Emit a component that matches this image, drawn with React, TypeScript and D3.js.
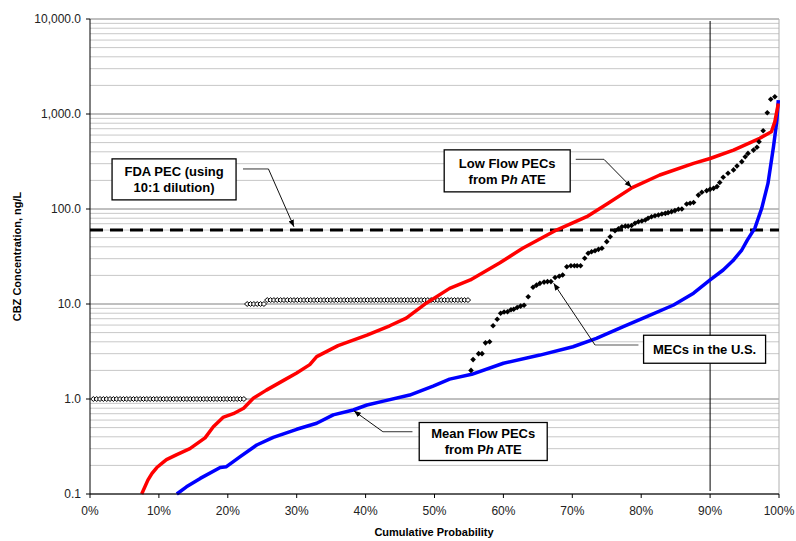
import React from 'react';
import * as d3 from 'd3';

// axis ticks
const probTicks = [0, 10, 20, 30, 40, 50, 60, 70, 80, 90, 100];
const concTicks = [0.1, 1, 10, 100, 1000, 10000];
const concTickLabels = ['0.1', '1.0', '10.0', '100.0', '1,000.0', '10,000.0'];

const fdaPec = 60; // ng/L, 10:1 dilution
const refProb = 90;

// Low Flow PECs from PhATE [cumulative %, ng/L]
const lowFlow: [number, number][] = [
  [7.5, 0.1], [8.4, 0.14], [9.0, 0.165], [9.7, 0.19], [10.6, 0.215], [11.1, 0.23],
  [12.6, 0.26], [14.5, 0.3], [16.7, 0.39], [17.9, 0.51], [19.3, 0.64], [20.8, 0.7],
  [22.3, 0.8], [23.7, 1.02], [25.6, 1.24], [28.1, 1.57], [30.0, 1.88], [31.9, 2.3],
  [32.9, 2.79], [36.0, 3.65], [40.2, 4.7], [43.5, 5.9], [45.9, 7.1], [48.8, 10.2],
  [52.2, 14.6], [55.2, 17.9], [59.5, 27.2], [62.8, 38.6], [67.7, 60], [72.1, 83],
  [75.2, 115], [78.7, 168], [82.7, 228], [87.6, 302], [90.0, 340], [93.4, 417],
  [97.2, 555], [98.9, 651], [99.4, 830], [99.9, 1290],
];

// Mean Flow PECs from PhATE
const meanFlow: [number, number][] = [
  [12.6, 0.1], [14.0, 0.119], [16.0, 0.146], [18.9, 0.19], [19.8, 0.194], [21.8, 0.247],
  [24.2, 0.328], [26.6, 0.395], [30.0, 0.48], [32.9, 0.555], [35.3, 0.68], [38.2, 0.766],
  [40.2, 0.865], [42.6, 0.95], [46.4, 1.1], [49.8, 1.37], [52.2, 1.62], [55.4, 1.82],
  [60.0, 2.38], [65.3, 2.9], [70.1, 3.55], [73.5, 4.35], [77.4, 5.77], [80.8, 7.35],
  [84.7, 9.76], [87.6, 13], [90.0, 17.9], [91.9, 22.8], [93.3, 28.5], [94.6, 37],
  [95.4, 47], [96.5, 63], [97.5, 102], [98.4, 186], [99.2, 453], [99.7, 865], [99.9, 1400],
];

// MECs in the U.S. - detections
const mecDetects: [number, number][] = [
  [55.3, 2.0], [55.6, 2.6], [56.4, 3.0], [56.9, 3.0], [57.4, 3.9], [58.0, 4.0],
  [58.5, 5.9], [59.1, 6.9], [59.6, 8.0], [60.1, 8.25], [60.6, 8.3], [61.1, 8.7],
  [61.5, 8.8], [62.0, 9.2], [62.5, 9.5], [63.0, 9.7], [63.6, 11.9], [64.3, 15.0],
  [64.8, 15.8], [65.3, 16.5], [65.9, 17.0], [66.4, 17.2], [66.9, 17.2], [67.5, 19.0],
  [68.1, 19.6], [68.6, 20.2], [69.2, 24.7], [69.8, 25.3], [70.3, 25.3], [70.7, 25.3],
  [71.2, 25.3], [71.8, 30.3], [72.3, 34.2], [72.8, 35.5], [73.3, 36.4], [73.8, 37.6],
  [74.3, 38.6], [75.0, 45.3], [75.5, 51], [76.2, 59], [76.7, 62], [77.2, 65],
  [77.7, 66], [78.1, 66], [78.6, 67], [79.1, 70.7], [79.6, 73.5], [80.1, 74.7],
  [80.6, 76.6], [81.0, 80], [81.5, 83], [82.0, 85], [82.5, 86.5], [83.0, 88.6],
  [83.5, 90], [83.9, 91.5], [84.4, 93.8], [84.9, 96.2], [85.4, 99.5], [85.9, 100],
  [86.6, 113], [87.1, 115], [87.6, 117], [88.3, 140], [88.8, 150], [89.5, 156],
  [90.0, 161], [90.5, 165], [91.0, 172], [91.4, 190], [91.9, 216], [92.6, 238],
  [93.4, 258], [93.9, 284], [94.6, 315], [95.1, 355], [95.5, 385], [96.3, 417],
  [96.8, 447], [97.1, 510], [97.7, 667], [98.3, 1030], [98.8, 1430], [99.4, 1520],
];

// MECs - non-detects (reporting limits), ranked first
const mecTotal = 205;
const nonDetectLevels = [1.0, 10.0, 11.0];
const nonDetectCounts = [46, 6, 61];

// callouts: box centre and leader in data units
const callouts = [
  { lines: ['FDA PEC (using', '10:1 dilution)'], ph: false, box: [12.2, 205], w: 124, h: 41,
    leader: [[22.2, 264], [25.9, 264], [29.6, 65]] },
  { lines: ['Low Flow PECs', 'from P'], ph: true, box: [60.55, 252], w: 126, h: 42,
    leader: [[70.5, 333], [74.6, 333], [78.6, 169]] },
  { lines: ['MECs in the U.S.'], ph: false, box: [89.2, 3.34], w: 122, h: 28,
    leader: [[79.6, 3.7], [73.3, 3.7], [67.3, 16.5]] },
  { lines: ['Mean Flow PECs', 'from P'], ph: true, box: [57.07, 0.357], w: 128, h: 38,
    leader: [[46.8, 0.453], [42.5, 0.453], [38.3, 0.75]] },
];

const W = 796, H = 541;
const left = 90, right = 779, top = 19, bottom = 494;
const font = '"Liberation Sans", Arial, sans-serif';

export default function App() {
  const x = d3.scaleLinear().domain([0, 100]).range([left, right]);
  const y = d3.scaleLog().domain([0.1, 10000]).range([bottom, top]);

  const minor: number[] = [];
  concTicks.slice(0, -1).forEach(d => {
    for (let m = 2; m <= 9; m++) minor.push(d * m);
  });

  const line = d3.line<[number, number]>()
    .x(d => x(d[0]))
    .y(d => y(d[1]));

  const nonDetects: [number, number][] = [];
  let rank = 1;
  nonDetectLevels.forEach((lvl, i) => {
    for (let k = 0; k < nonDetectCounts[i]; k++) {
      nonDetects.push([(rank / (mecTotal + 1)) * 100, lvl]);
      rank++;
    }
  });

  const diamond = (r: number, ry: number) => `M0,${-ry}L${r},0L0,${ry}L${-r},0Z`;

  return (
    <svg width={W} height={H} style={{ position: 'absolute', left: 0, top: 0, background: '#fff' }}
      fontFamily={font}>
      <defs>
        <marker id="arr" viewBox="0 0 10 10" refX="10" refY="5" markerWidth="7" markerHeight="7"
          orient="auto-start-reverse" markerUnits="userSpaceOnUse">
          <path d="M0,1L10,5L0,9Z" fill="#000" />
        </marker>
      </defs>
      <rect width={W} height={H} fill="#fff" />

      {/* grid */}
      {minor.map((v, i) => (
        <line key={'m' + i} x1={left} x2={right} y1={y(v)} y2={y(v)} stroke="#c8c8c8" strokeWidth={1} />
      ))}
      {concTicks.map((v, i) => (
        <line key={'g' + i} x1={left} x2={right} y1={y(v)} y2={y(v)} stroke="#808080" strokeWidth={1} />
      ))}
      <line x1={right} x2={right} y1={top} y2={bottom} stroke="#b0b0b0" />

      {/* reference lines */}
      <line x1={x(refProb)} x2={x(refProb)} y1={top + 2} y2={bottom - 3} stroke="#000" strokeWidth={1} />
      <line x1={left} x2={right} y1={y(fdaPec)} y2={y(fdaPec)} stroke="#000" strokeWidth={3}
        strokeDasharray="13 7" />

      {/* non-detects */}
      {nonDetects.map((d, i) => (
        <path key={'nd' + i} d={diamond(2.7, 2.4)} transform={`translate(${x(d[0])},${y(d[1])})`}
          fill="#fff" stroke="#000" strokeWidth={1} />
      ))}

      <path d={line(meanFlow) || ''} fill="none" stroke="#0000ff" strokeWidth={3.5} strokeLinejoin="round" />
      <path d={line(lowFlow) || ''} fill="none" stroke="#ff0000" strokeWidth={3.5} strokeLinejoin="round" />

      {mecDetects.map((d, i) => (
        <path key={'md' + i} d={diamond(2.8, 2.8)} transform={`translate(${x(d[0])},${y(d[1])})`}
          fill="#000" />
      ))}

      {/* axes */}
      <line x1={left} x2={left} y1={top} y2={bottom} stroke="#000" />
      <line x1={left} x2={right} y1={bottom} y2={bottom} stroke="#000" />
      {concTicks.map((v, i) => (
        <g key={'yt' + i} transform={`translate(0,${y(v)})`}>
          <line x1={left - 4} x2={left} stroke="#000" />
          <text x={left - 9} dy="0.35em" textAnchor="end" fontSize={12} fill="#222">{concTickLabels[i]}</text>
        </g>
      ))}
      {probTicks.map((p, i) => (
        <g key={'xt' + i} transform={`translate(${x(p)},0)`}>
          <line y1={bottom} y2={bottom + 4} stroke="#000" />
          <text y={515} textAnchor="middle" fontSize={12} fill="#222">{p}%</text>
        </g>
      ))}
      <text x={434} y={536} textAnchor="middle" fontSize={11} fontWeight="bold">Cumulative Probability</text>
      <text transform={`translate(21,${(top + bottom) / 2}) rotate(-90)`} textAnchor="middle" fontSize={11}
        fontWeight="bold">CBZ Concentration, ng/L</text>

      {/* callouts */}
      {callouts.map((c, i) => {
        const cx = x(c.box[0]), cy = y(c.box[1]);
        const pts = c.leader.map(p => [x(p[0]), y(p[1])]);
        const n = c.lines.length;
        return (
          <g key={'c' + i}>
            <polyline points={pts.slice(0, 2).map(p => p.join(',')).join(' ')} fill="none" stroke="#555" strokeWidth={1.2} />
            <line x1={pts[1][0]} y1={pts[1][1]} x2={pts[2][0]} y2={pts[2][1]} stroke="#111" strokeWidth={1}
              markerEnd="url(#arr)" />
            <rect x={cx - c.w / 2} y={cy - c.h / 2} width={c.w} height={c.h} fill="#fff" stroke="#000" strokeWidth={1.3} />
            {c.lines.map((t, j) => (
              <text key={j} x={cx} y={cy + (j - (n - 1) / 2) * 16} dy="0.36em" textAnchor="middle"
                fontSize={13} fontWeight="bold">
                {t}
                {c.ph && j === 1 ? (
                  <>
                    <tspan fontStyle="italic">h</tspan>
                    <tspan dx={3}>ATE</tspan>
                  </>
                ) : null}
              </text>
            ))}
          </g>
        );
      })}
    </svg>
  );
}
